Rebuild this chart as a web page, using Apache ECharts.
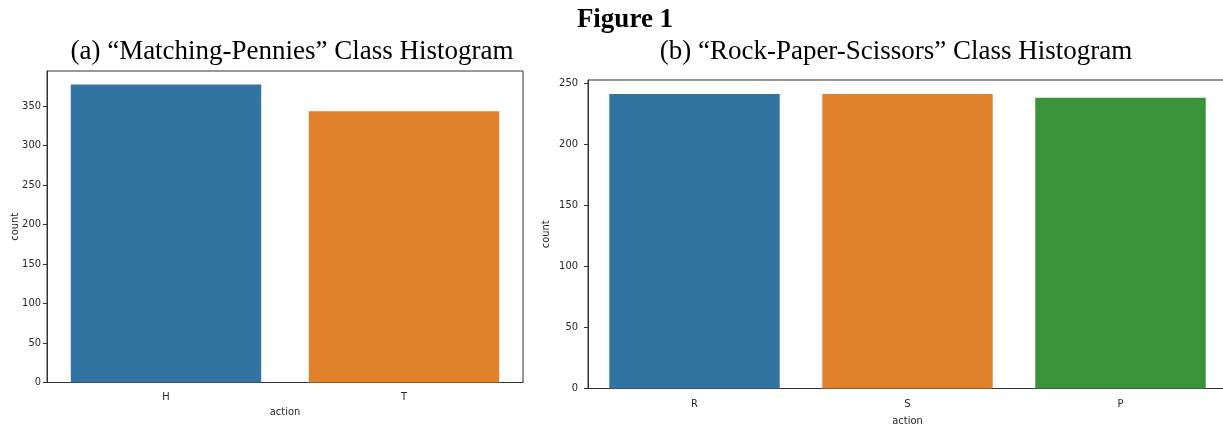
<!DOCTYPE html>
<html>
<head>
<meta charset="utf-8">
<script src="https://cdn.jsdelivr.net/npm/echarts@6/dist/echarts.min.js"></script>
<style>
html,body{margin:0;padding:0;background:#fff;}
#c{width:1223px;height:427px;}
</style>
</head>
<body>
<div id="c"></div>
<script>
const figureTitle = 'Figure 1';
const titleA = '(a) \u201cMatching-Pennies\u201d Class Histogram';
const titleB = '(b) \u201cRock-Paper-Scissors\u201d Class Histogram';
const catsA = ['H', 'T'];
const valsA = [377, 343];
const catsB = ['R', 'S', 'P'];
const valsB = [241, 241, 238];
const ticksA = [0, 50, 100, 150, 200, 250, 300, 350];
const ticksB = [0, 50, 100, 150, 200, 250];
const colors = ['#3274a1', '#e1812c', '#3a923a'];

const lblFont = '"DejaVu Sans Condensed", "Liberation Sans Narrow", sans-serif';
const axCol = '#333333';
const txtCol = '#262626';
const lblStyle = {fontFamily: lblFont, fontSize: 11, color: txtCol};

function xAx(idx, cats, gap, margin) {
  return {
    type: 'category', gridIndex: idx, data: cats,
    name: 'action', nameLocation: 'middle', nameGap: gap, nameMoveOverlap: false,
    nameTextStyle: Object.assign({}, lblStyle),
    axisLine: {lineStyle: {color: axCol, width: 1}},
    axisTick: {alignWithLabel: true, length: 4, lineStyle: {color: axCol}},
    axisLabel: Object.assign({margin: margin}, lblStyle)
  };
}
function yAx(idx, max, ticks, gap, margin) {
  return {
    type: 'value', gridIndex: idx, min: 0, max: max, interval: 50,
    name: 'count', nameLocation: 'middle', nameGap: gap, nameRotate: 90, nameMoveOverlap: false,
    nameTextStyle: Object.assign({}, lblStyle),
    splitLine: {show: false},
    axisLine: {show: true, lineStyle: {color: axCol, width: 1}},
    axisTick: {show: true, length: 4, lineStyle: {color: axCol}, customValues: ticks},
    axisLabel: Object.assign({margin: margin, customValues: ticks}, lblStyle)
  };
}

const chart = echarts.init(document.getElementById('c'), null, {renderer: 'canvas'});
chart.setOption({
  animation: false,
  backgroundColor: '#ffffff',
  title: [
    {text: figureTitle, left: 620, top: 2, textAlign: 'center',
     textStyle: {fontFamily: '"Liberation Serif", serif', fontWeight: 'bold', fontSize: 27, color: '#000'}},
    {text: titleA, left: 287, top: 33, textAlign: 'center',
     textStyle: {fontFamily: '"Liberation Serif", serif', fontWeight: 'normal', fontSize: 27, color: '#000'}},
    {text: titleB, left: 891, top: 33, textAlign: 'center',
     textStyle: {fontFamily: '"Liberation Serif", serif', fontWeight: 'normal', fontSize: 27, color: '#000'}}
  ],
  grid: [
    {left: 47, top: 71, width: 476, height: 311.5, show: true, borderColor: axCol, borderWidth: 1, containLabel: false, outerBoundsMode: 'none'},
    {left: 588, top: 80, width: 639, height: 308.5, show: true, borderColor: axCol, borderWidth: 1, containLabel: false, outerBoundsMode: 'none'}
  ],
  xAxis: [xAx(0, catsA, 24, 9), xAx(1, catsB, 27, 10)],
  yAxis: [yAx(0, 394, ticksA, 26, 6), yAx(1, 252.5, ticksB, 36, 10)],
  series: [
    {type: 'bar', xAxisIndex: 0, yAxisIndex: 0, barCategoryGap: '20%',
     data: valsA.map((v, i) => ({value: v, itemStyle: {color: colors[i]}}))},
    {type: 'bar', xAxisIndex: 1, yAxisIndex: 1, barCategoryGap: '20%',
     data: valsB.map((v, i) => ({value: v, itemStyle: {color: colors[i]}}))}
  ]
});
</script>
</body>
</html>
